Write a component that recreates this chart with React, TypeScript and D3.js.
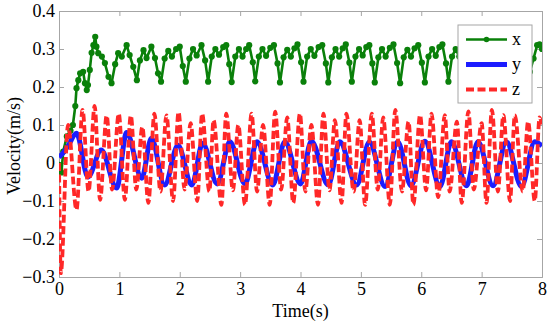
import React, { useEffect, useRef } from 'react';
import * as d3 from 'd3';

// time (s), velocity (m/s) pairs
const seriesX: [number, number][] = [
  [0.0, -0.005], [0.04, -0.025], [0.07, 0.03], [0.13, 0.07], [0.19, 0.085], [0.23, 0.1],
  [0.27, 0.15], [0.29, 0.197], [0.32, 0.218], [0.35, 0.236], [0.4, 0.24], [0.43, 0.21],
  [0.46, 0.192], [0.48, 0.205], [0.51, 0.245], [0.54, 0.29], [0.57, 0.31], [0.6, 0.332],
  [0.62, 0.306], [0.65, 0.289], [0.71, 0.28], [0.76, 0.263], [0.82, 0.227], [0.87, 0.21],
  [0.93, 0.26], [0.98, 0.289], [1.04, 0.28], [1.12, 0.31], [1.17, 0.284], [1.23, 0.253],
  [1.29, 0.218], [1.34, 0.27], [1.4, 0.297], [1.45, 0.276], [1.53, 0.306], [1.59, 0.276],
  [1.64, 0.236], [1.69, 0.214], [1.75, 0.275], [1.81, 0.295], [1.87, 0.28], [1.94, 0.3],
  [2.0, 0.306], [2.05, 0.255], [2.1, 0.214], [2.16, 0.275], [2.22, 0.3], [2.28, 0.283],
  [2.36, 0.31], [2.42, 0.27], [2.47, 0.214], [2.53, 0.28], [2.59, 0.3], [2.65, 0.285],
  [2.72, 0.305], [2.77, 0.31], [2.82, 0.26], [2.86, 0.213], [2.92, 0.28], [2.98, 0.3],
  [3.04, 0.28], [3.1, 0.3], [3.15, 0.31], [3.21, 0.265], [3.25, 0.215], [3.31, 0.28],
  [3.37, 0.3], [3.43, 0.282], [3.5, 0.303], [3.56, 0.31], [3.62, 0.262], [3.66, 0.212],
  [3.72, 0.278], [3.78, 0.298], [3.84, 0.28], [3.9, 0.302], [3.95, 0.312], [4.01, 0.265],
  [4.05, 0.214], [4.11, 0.28], [4.17, 0.3], [4.23, 0.282], [4.3, 0.305], [4.36, 0.31],
  [4.42, 0.262], [4.46, 0.212], [4.52, 0.278], [4.58, 0.3], [4.64, 0.28], [4.7, 0.302],
  [4.75, 0.312], [4.81, 0.264], [4.85, 0.214], [4.91, 0.28], [4.97, 0.3], [5.03, 0.283],
  [5.09, 0.305], [5.14, 0.31], [5.19, 0.262], [5.23, 0.212], [5.29, 0.278], [5.35, 0.3],
  [5.41, 0.28], [5.48, 0.303], [5.54, 0.312], [5.6, 0.263], [5.65, 0.21], [5.71, 0.278],
  [5.77, 0.298], [5.83, 0.28], [5.89, 0.302], [5.95, 0.31], [6.01, 0.264], [6.06, 0.212],
  [6.12, 0.28], [6.18, 0.3], [6.24, 0.282], [6.3, 0.305], [6.35, 0.312], [6.41, 0.262],
  [6.45, 0.214], [6.51, 0.28], [6.57, 0.3], [6.63, 0.28], [6.69, 0.303], [6.75, 0.31],
  [6.81, 0.262], [6.85, 0.213], [6.91, 0.28], [6.97, 0.3], [7.03, 0.282], [7.09, 0.304],
  [7.14, 0.31], [7.2, 0.264], [7.24, 0.213], [7.3, 0.278], [7.36, 0.3], [7.42, 0.28],
  [7.49, 0.303], [7.54, 0.31], [7.6, 0.262], [7.64, 0.22], [7.7, 0.27], [7.74, 0.28],
  [7.8, 0.24], [7.86, 0.275], [7.92, 0.31], [7.96, 0.312], [8.0, 0.3],
];

const seriesY: [number, number][] = [
  [0.0, 0.015], [0.06, 0.025], [0.15, 0.045], [0.29, 0.078], [0.48, -0.037], [0.7, 0.034],
  [0.955, -0.066], [1.12, 0.08], [1.37, -0.04], [1.53, 0.065], [1.75, -0.058], [1.97, 0.047],
  [2.2, -0.058], [2.38, 0.052], [2.62, -0.055], [2.83, 0.056], [3.08, -0.055], [3.28, 0.056],
  [3.54, -0.058], [3.74, 0.056], [4.0, -0.055], [4.18, 0.058], [4.46, -0.058], [4.65, 0.056],
  [4.93, -0.058], [5.14, 0.055], [5.4, -0.062], [5.61, 0.056], [5.83, -0.06], [6.06, 0.057],
  [6.31, -0.062], [6.5, 0.056], [6.75, -0.06], [6.94, 0.056], [7.19, -0.06], [7.41, 0.056],
  [7.66, -0.062], [7.88, 0.056], [8.0, 0.045],
];

const seriesZ: [number, number][] = [
  [0.0, 0.0], [0.03, -0.29], [0.15, 0.1], [0.29, -0.123], [0.39, 0.14], [0.49, -0.075],
  [0.59, 0.15], [0.68, -0.097], [0.79, 0.125], [0.88, -0.07], [0.99, 0.13], [1.09, -0.097],
  [1.19, 0.125], [1.28, -0.07], [1.38, 0.095], [1.48, -0.105], [1.58, 0.13], [1.68, -0.075],
  [1.78, 0.125], [1.89, -0.1], [1.98, 0.134], [2.08, -0.07], [2.18, 0.105], [2.29, -0.1],
  [2.37, 0.13], [2.49, -0.075], [2.56, 0.113], [2.69, -0.11], [2.77, 0.13], [2.88, -0.072],
  [2.97, 0.1], [3.08, -0.11], [3.19, 0.13], [3.28, -0.075], [3.38, 0.1], [3.49, -0.11],
  [3.58, 0.135], [3.68, -0.07], [3.78, 0.12], [3.88, -0.105], [3.99, 0.13], [4.08, -0.075],
  [4.18, 0.1], [4.29, -0.11], [4.38, 0.13], [4.48, -0.072], [4.57, 0.113], [4.68, -0.105],
  [4.76, 0.13], [4.88, -0.075], [4.98, 0.113], [5.07, -0.11], [5.18, 0.13], [5.28, -0.07],
  [5.37, 0.12], [5.48, -0.11], [5.57, 0.14], [5.68, -0.075], [5.79, 0.109], [5.87, -0.11],
  [5.98, 0.126], [6.08, -0.072], [6.17, 0.13], [6.28, -0.09], [6.39, 0.126], [6.47, -0.075],
  [6.59, 0.109], [6.67, -0.105], [6.78, 0.136], [6.87, -0.07], [7.0, 0.105], [7.08, -0.105],
  [7.17, 0.14], [7.27, -0.075], [7.36, 0.126], [7.47, -0.1], [7.55, 0.126], [7.68, -0.075],
  [7.77, 0.109], [7.88, -0.1], [7.96, 0.12], [8.0, 0.1],
];

const xTicks = [0, 1, 2, 3, 4, 5, 6, 7, 8];
const yTicks = [-0.3, -0.2, -0.1, 0, 0.1, 0.2, 0.3, 0.4];
const legendLabels = ['x', 'y', 'z'];

const GREEN = '#0a800a';
const BLUE = '#1c1cff';
const RED = '#ff2828';
const FONT = '"Liberation Serif", "Times New Roman", serif';
const FS = 18;

const App: React.FC = () => {
  const svgRef = useRef<SVGSVGElement>(null);

  useEffect(() => {
    if (!svgRef.current) return;
    const W = 550;
    const H = 322;
    const margin = { top: 11, right: 8, bottom: 45, left: 59 };
    const width = W - margin.left - margin.right;
    const height = H - margin.top - margin.bottom;

    const svg = d3.select(svgRef.current);
    svg.selectAll('*').remove();
    svg.attr('width', W).attr('height', H);

    svg.append('rect').attr('width', W).attr('height', H).attr('fill', '#fff');

    svg.append('defs').append('clipPath').attr('id', 'plot-clip')
      .append('rect').attr('width', width).attr('height', height);

    const g = svg.append('g').attr('transform', `translate(${margin.left},${margin.top})`);

    const x = d3.scaleLinear().domain([0, 8]).range([0, width]);
    const y = d3.scaleLinear().domain([-0.3, 0.4]).range([height, 0]);

    // box + inward ticks on all sides
    const axisColor = '#a6a6a6';
    const fmtY = (d: number) => (d === 0 ? '0' : d3.format('.1f')(d));

    const bottom = g.append('g').attr('transform', `translate(0,${height})`)
      .call(d3.axisBottom(x).tickValues(xTicks).tickSize(-5).tickPadding(5).tickFormat(d3.format('d')));
    const top = g.append('g')
      .call(d3.axisTop(x).tickValues(xTicks).tickSize(-5).tickFormat(() => ''));
    const left = g.append('g')
      .call(d3.axisLeft(y).tickValues(yTicks).tickSize(-5).tickPadding(4).tickFormat((d) => fmtY(+d)));
    const right = g.append('g').attr('transform', `translate(${width},0)`)
      .call(d3.axisRight(y).tickValues(yTicks).tickSize(-5).tickFormat(() => ''));

    [bottom, top, left, right].forEach((a) => {
      a.select('.domain').attr('stroke', axisColor);
      a.selectAll('.tick line').attr('stroke', axisColor);
      a.selectAll('text').attr('font-family', FONT).attr('font-size', FS).attr('fill', '#000');
    });

    const plot = g.append('g').attr('clip-path', 'url(#plot-clip)');

    const lineLinear = d3.line<[number, number]>().x((d) => x(d[0])).y((d) => y(d[1]));
    const lineSmooth = d3.line<[number, number]>()
      .x((d) => x(d[0])).y((d) => y(d[1])).curve(d3.curveMonotoneX);

    // x series: green line with dot markers
    plot.append('path').datum(seriesX)
      .attr('d', lineLinear).attr('fill', 'none').attr('stroke', GREEN).attr('stroke-width', 2.6)
      .attr('stroke-linejoin', 'round');
    plot.selectAll('circle.mx').data(seriesX).enter().append('circle')
      .attr('class', 'mx')
      .attr('cx', (d) => x(d[0])).attr('cy', (d) => y(d[1])).attr('r', 3.1).attr('fill', GREEN);

    // y series: thick blue
    plot.append('path').datum(seriesY)
      .attr('d', lineSmooth).attr('fill', 'none').attr('stroke', BLUE).attr('stroke-width', 5)
      .attr('stroke-linejoin', 'round');

    // z series: red dashed
    plot.append('path').datum(seriesZ)
      .attr('d', lineSmooth).attr('fill', 'none').attr('stroke', RED).attr('stroke-width', 3.8)
      .attr('stroke-dasharray', '8,3.5');

    // axis labels
    g.append('text')
      .attr('x', width / 2).attr('y', height + 40)
      .attr('text-anchor', 'middle').attr('font-family', FONT).attr('font-size', FS)
      .text('Time(s)');
    svg.append('text')
      .attr('transform', `translate(20,${margin.top + height / 2 + 2}) rotate(-90)`)
      .attr('text-anchor', 'middle').attr('font-family', FONT).attr('font-size', FS)
      .text('Velocity(m/s)');

    // legend
    const lg = svg.append('g').attr('transform', 'translate(458,25)');
    lg.append('rect').attr('width', 74).attr('height', 78)
      .attr('fill', '#fff').attr('stroke', axisColor).attr('stroke-width', 1);
    const styles = [
      { color: GREEN, w: 2.4, dash: null as string | null, marker: true },
      { color: BLUE, w: 5, dash: null, marker: false },
      { color: RED, w: 3.8, dash: '8,3.5', marker: false },
    ];
    legendLabels.forEach((label, i) => {
      const cy = 14.5 + i * 25;
      const s = styles[i];
      const ln = lg.append('line').attr('x1', 8).attr('x2', 49).attr('y1', cy).attr('y2', cy)
        .attr('stroke', s.color).attr('stroke-width', s.w);
      if (s.dash) ln.attr('stroke-dasharray', s.dash);
      if (s.marker) lg.append('circle').attr('cx', 28.5).attr('cy', cy).attr('r', 2.8).attr('fill', s.color);
      lg.append('text').attr('x', 54).attr('y', cy).attr('dy', '0.3em')
        .attr('font-family', FONT).attr('font-size', FS).text(label);
    });
  }, []);

  return (
    <div style={{ position: 'absolute', left: 0, top: 0 }}>
      <svg ref={svgRef} style={{ display: 'block' }}></svg>
    </div>
  );
};

export default App;
